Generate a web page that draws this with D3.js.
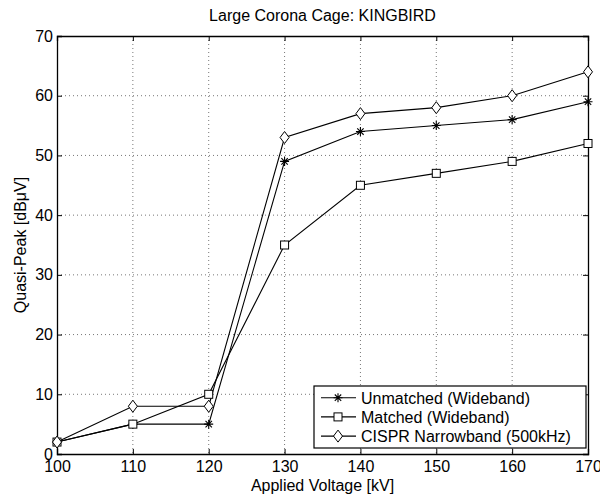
<!DOCTYPE html>
<html>
<head>
<meta charset="utf-8">
<script src="https://cdn.jsdelivr.net/npm/d3@7"></script>
<style>
  body { margin: 0; background: #fff; }
  text { font-family: "Liberation Sans", Arial, sans-serif; fill: #000; }
</style>
</head>
<body>
<div id="chart"></div>
<script>
const w = 600;
const h = 495;

// data
const voltages = [100, 110, 120, 130, 140, 150, 160, 170];
const unmatched = [2, 5, 5, 49, 54, 55, 56, 59];
const matched = [2, 5, 10, 35, 45, 47, 49, 52];
const cispr = [2, 8, 8, 53, 57, 58, 60, 64];
const seriesNames = ["Unmatched (Wideband)", "Matched (Wideband)", "CISPR Narrowband (500kHz)"];
const seriesMarkers = ["star", "square", "diamond"];
const yTicks = [0, 10, 20, 30, 40, 50, 60, 70];

const margin = { top: 36, right: 12, bottom: 41, left: 57 };
const iw = w - margin.left - margin.right;
const ih = h - margin.top - margin.bottom;

const svg = d3.select("#chart").append("svg").attr("width", w).attr("height", h);

const x = d3.scaleLinear().domain([100, 170]).range([0, iw]);
const y = d3.scaleLinear().domain([0, 70]).range([ih, 0]);

const g = svg.append("g").attr("transform", "translate(" + margin.left + "," + margin.top + ")");

//grid
g.append("g").selectAll("line")
    .data(voltages.slice(1, -1))
    .enter().append("line")
    .attr("x1", d => x(d)).attr("x2", d => x(d))
    .attr("y1", 0).attr("y2", ih)
    .attr("stroke", "#777").attr("stroke-width", 1)
    .attr("stroke-dasharray", "1,3");

g.append("g").selectAll("line")
    .data(yTicks.slice(1, -1))
    .enter().append("line")
    .attr("y1", d => y(d)).attr("y2", d => y(d))
    .attr("x1", 0).attr("x2", iw)
    .attr("stroke", "#777").attr("stroke-width", 1)
    .attr("stroke-dasharray", "1,3");

//axes (ticks inward, box on)
const xAxis = g.append("g").attr("transform", "translate(0," + ih + ")")
    .call(d3.axisBottom(x).tickValues(voltages).tickSize(-5).tickPadding(7).tickFormat(d3.format("d")));
const xTop = g.append("g")
    .call(d3.axisTop(x).tickValues(voltages).tickSize(-5).tickFormat(""));
const yAxis = g.append("g")
    .call(d3.axisLeft(y).tickValues(yTicks).tickSize(-5).tickPadding(4).tickFormat(d3.format("d")));
const yRight = g.append("g").attr("transform", "translate(" + iw + ",0)")
    .call(d3.axisRight(y).tickValues(yTicks).tickSize(-5).tickFormat(""));

[xAxis, xTop, yAxis, yRight].forEach(a => {
    a.select(".domain").attr("stroke", "#000").attr("stroke-width", 1.3);
    a.selectAll(".tick line").attr("stroke", "#000");
    a.selectAll("text").style("font-size", "16px").attr("fill", "#000");
});

//lines
const line = d3.line().x((d, i) => x(voltages[i])).y(d => y(d));
const allSeries = [unmatched, matched, cispr];

function drawMarker(sel, type) {
    if (type === "star") {
        const p = "M-4.5,0L4.5,0M0,-4.5L0,4.5M-3.2,-3.2L3.2,3.2M-3.2,3.2L3.2,-3.2";
        sel.append("path").attr("d", p).attr("stroke", "#000").attr("stroke-width", 1.1).attr("fill", "none");
    } else if (type === "square") {
        sel.append("rect").attr("x", -4).attr("y", -4).attr("width", 8).attr("height", 8)
            .attr("fill", "#fff").attr("stroke", "#000").attr("stroke-width", 1);
    } else {
        sel.append("path").attr("d", "M0,-6L4.5,0L0,6L-4.5,0Z")
            .attr("fill", "#fff").attr("stroke", "#000").attr("stroke-width", 1);
    }
}

allSeries.forEach((s, k) => {
    g.append("path").datum(s)
        .attr("d", line)
        .attr("fill", "none").attr("stroke", "#000").attr("stroke-width", 1.1);
});

allSeries.forEach((s, k) => {
    s.forEach((v, i) => {
        const m = g.append("g").attr("transform", "translate(" + x(voltages[i]) + "," + y(v) + ")");
        drawMarker(m, seriesMarkers[k]);
    });
});

//legend
const lg = svg.append("g").attr("transform", "translate(314,386)");
lg.append("rect").attr("width", 272).attr("height", 62)
    .attr("fill", "#fff").attr("stroke", "#000").attr("stroke-width", 1.2);
seriesNames.forEach((name, k) => {
    const row = lg.append("g").attr("transform", "translate(0," + (11.7 + k * 19.2) + ")");
    row.append("line").attr("x1", 7).attr("x2", 42).attr("y1", 0).attr("y2", 0)
        .attr("stroke", "#000").attr("stroke-width", 1.1);
    drawMarker(row.append("g").attr("transform", "translate(24,0)"), seriesMarkers[k]);
    row.append("text").attr("x", 47).attr("y", 5.8).style("font-size", "16px").text(name);
});

//title and labels
svg.append("text").attr("x", margin.left + iw / 2).attr("y", 21)
    .attr("text-anchor", "middle").style("font-size", "16px")
    .text("Large Corona Cage: KINGBIRD");

svg.append("text").attr("x", margin.left + iw / 2).attr("y", 491)
    .attr("text-anchor", "middle").style("font-size", "16px")
    .text("Applied Voltage [kV]");

svg.append("text")
    .attr("transform", "translate(26," + (margin.top + ih / 2) + ") rotate(-90)")
    .attr("text-anchor", "middle").style("font-size", "16px")
    .text("Quasi-Peak [dBμV]");
</script>
</body>
</html>
